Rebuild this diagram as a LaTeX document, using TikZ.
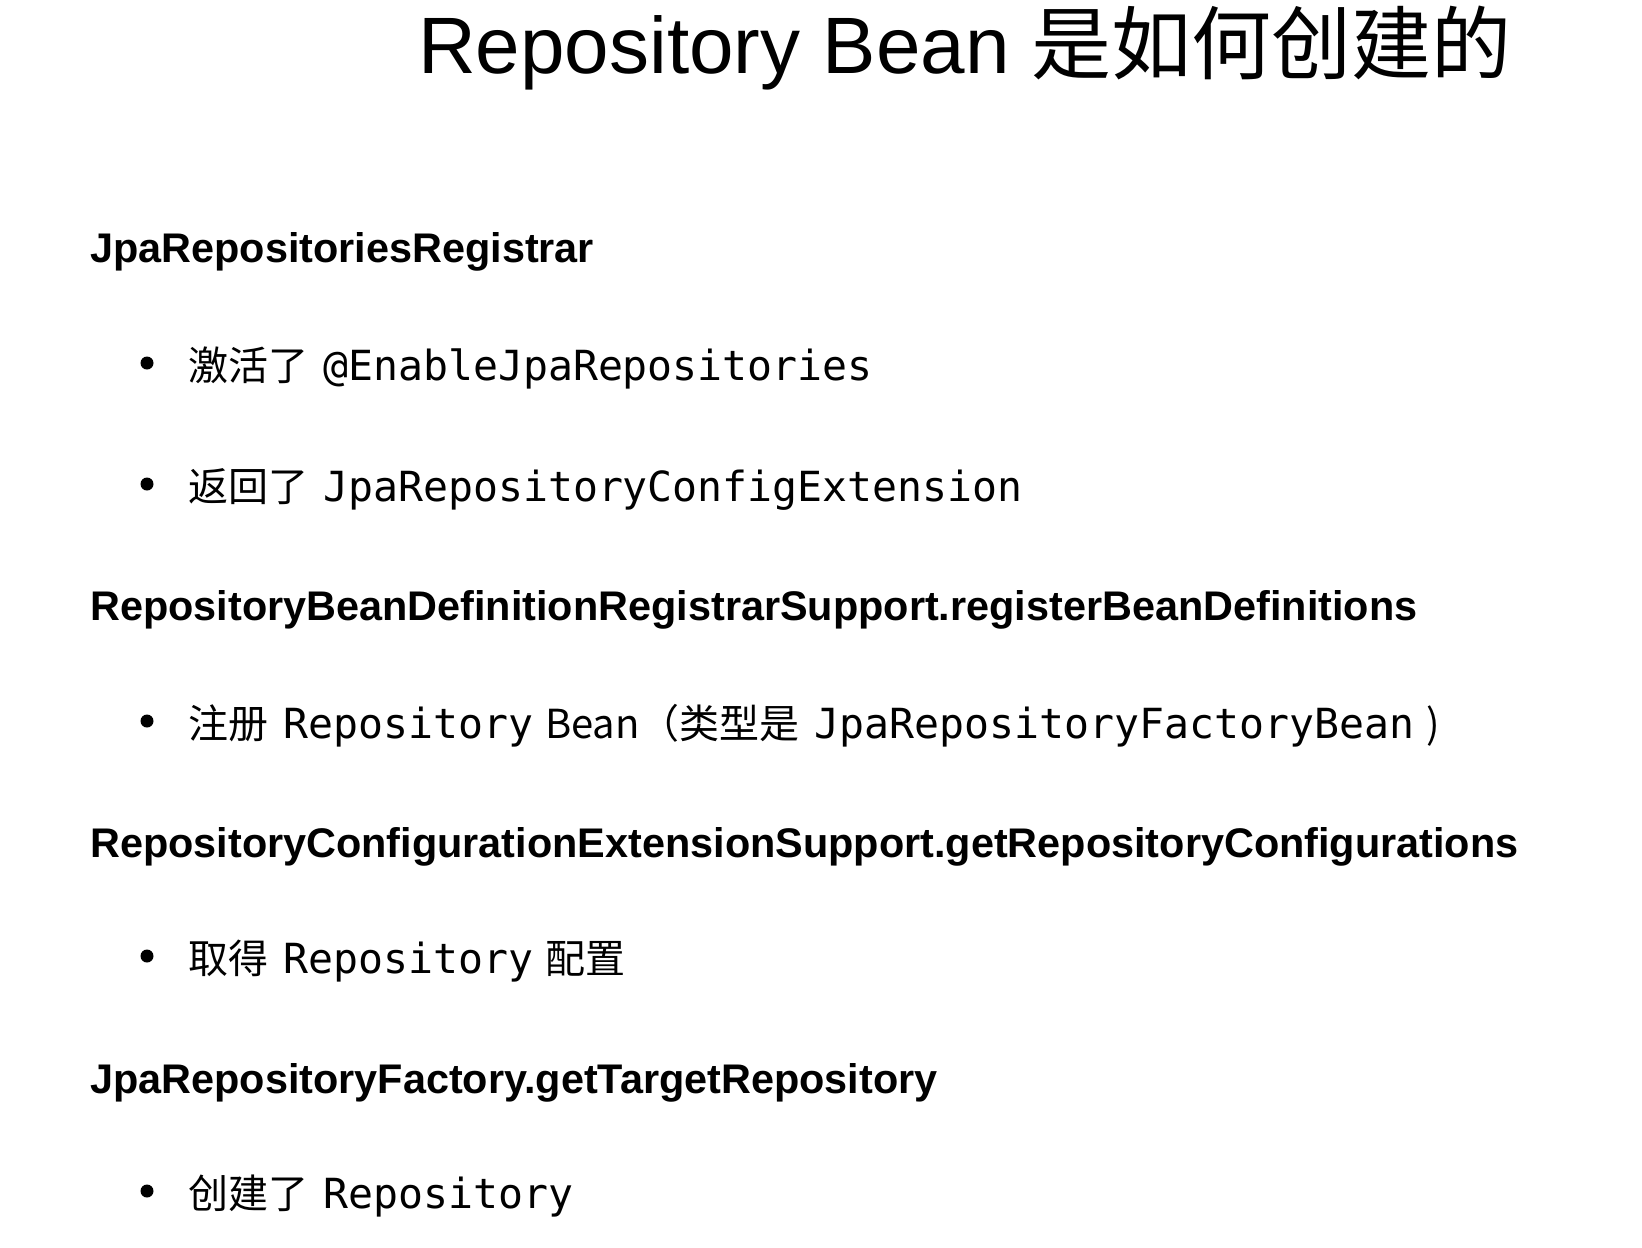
\documentclass[tikz,border=0pt]{standalone}
\usepackage{fontspec}
\setmainfont{Liberation Sans}
\newfontfamily\cjk{Noto Sans CJK SC}
\newfontfamily\mono{DejaVu Sans Mono}
\newcommand\mygap{\hspace{15pt}}
\tikzset{
  titletext/.style={anchor=base west, inner sep=0pt, font=\fontsize{80}{90}\selectfont},
  headtext/.style={anchor=base west, inner sep=0pt, font=\fontsize{41.4}{48}\selectfont\bfseries},
  itemtext/.style={anchor=base west, inner sep=0pt, font=\fontsize{40}{48}\selectfont},
  dot/.style={circle, fill=black, inner sep=0pt, minimum size=13pt}
}
\newcommand\mn[1]{{\mono\fontsize{41.5}{48}\selectfont #1}}
\newcommand\cj[1]{{\cjk\fontsize{40}{48}\selectfont #1}}
\begin{document}
\begin{tikzpicture}[x=1pt,y=-1pt]
\useasboundingbox (0,0) rectangle (1642,1248);
\node[titletext] (title) at (418,73) {Repository Bean {\cjk\fontsize{80}{90}\selectfont 是如何创建的}};

\node[headtext] (h1) at (90,262) {JpaRepositoriesRegistrar};
\node[dot] (d1) at (147,363) {};
\node[itemtext] (b1) at (188,380) {\cj{激活了}\mygap\mn{@EnableJpaRepositories}};
\node[dot] (d2) at (147,484) {};
\node[itemtext] (b2) at (188,501) {\cj{返回了}\mygap\mn{JpaRepositoryConfigExtension}};

\node[headtext] (h2) at (90,620) {RepositoryBeanDefinitionRegistrarSupport.registerBeanDefinitions};
\node[dot] (d3) at (147,721) {};
\node[itemtext] (b3) at (188,738) {\cj{注册}\mygap\mn{Repository}\hspace{12pt}\cj{Bean（类型是}\mygap\mn{JpaRepositoryFactoryBean}\hspace{12pt}\cj{)}};

\node[headtext] (h3) at (90,857) {RepositoryConfigurationExtensionSupport.getRepositoryConfigurations};
\node[dot] (d4) at (147,956) {};
\node[itemtext] (b4) at (188,973) {\cj{取得}\mygap\mn{Repository}\hspace{12pt}\cj{配置}};

\node[headtext] (h4) at (90,1093) {JpaRepositoryFactory.getTargetRepository};
\node[dot] (d5) at (147,1191) {};
\node[itemtext] (b5) at (188,1208) {\cj{创建了}\mygap\mn{Repository}};
\end{tikzpicture}
\end{document}
